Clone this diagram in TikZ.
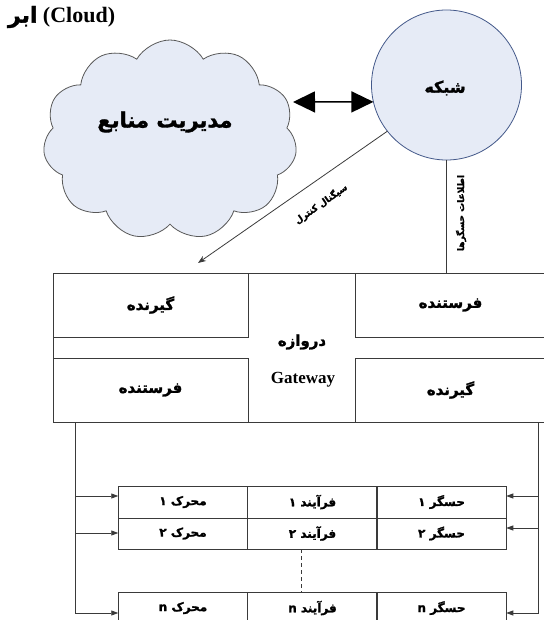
\documentclass[tikz,border=0pt]{standalone}
\usepackage{fontspec}
\setmainfont{Liberation Serif}
\newfontfamily\fa[Script=Arabic,BoldFeatures={FakeBold=1.6}]{DejaVu Sans}
\usetikzlibrary{shapes.symbols,arrows.meta}
\TeXXeTstate=1
\definecolor{fillblue}{HTML}{E6EBF6}
\definecolor{circedge}{HTML}{44598A}
\definecolor{ln}{HTML}{3A3A3A}
\newcommand{\fatext}[1]{{\fa\bfseries\beginR #1\endR}}
\newcommand{\fsz}[1]{\fontsize{#1}{#1}\selectfont}
\begin{document}
\begin{tikzpicture}[x=1pt,y=-1pt,
  every node/.style={inner sep=0pt, outer sep=0pt},
  lnst/.style={draw=ln, line width=0.8pt},
  gbox/.style={draw=ln, line width=0.9pt, minimum height=64pt, font=\fsz{15}},
  cell/.style={draw=ln, line width=0.9pt, minimum width=129.5pt, font=\fsz{12}},
  tip/.style={-{Triangle[length=7pt,width=5pt]}},
  bigtip/.style={{Triangle[length=22pt,width=21pt]}-{Triangle[length=22pt,width=21pt]}}
]
\useasboundingbox (0,0) rectangle (543,620);

% title
\node[anchor=west] (title) at (8,17) {\fsz{22}\fatext{ابر} \bfseries(Cloud)};

% cloud
\node[cloud, cloud puffs=11, cloud puff arc=120, aspect=1.26, draw=ln!85, line width=0.8pt,
      fill=fillblue, minimum width=254pt, minimum height=200pt] (cloud) at (170,140) {};
\node (cloudtxt) at (165,122) {\fsz{21}\fatext{مدیریت منابع}};

% network circle
\node[circle, draw=circedge, line width=0.8pt, fill=fillblue, minimum size=150pt] (net) at (446.5,85) {};
\node (nettxt) at (445,88) {\fsz{16}\fatext{شبکه}};

% double arrow
\coordinate (ca) at (293,102);
\draw[bigtip, line width=1.5pt] (ca) -- (net.193);

% gateway
\node[draw=ln, line width=0.9pt, minimum width=493pt, minimum height=149pt] (gw) at (299.5,347.5) {};
\node[gbox, minimum width=195pt] (lt) at (150.5,305) {\fatext{گیرنده}};
\node[gbox, minimum width=195pt] (lb) at (150.5,390) {\fatext{فرستنده}};
\node[gbox, minimum width=191pt] (rt) at (450.5,305) {\fatext{فرستنده}};
\node[gbox, minimum width=191pt] (rb) at (450.5,390) {\fatext{گیرنده}};
\node (gwfa) at (302,342) {\fsz{15}\fatext{دروازه}};
\node (gwen) at (303,380) {\fsz{17}\bfseries Gateway};

% control signal
\coordinate (ctl) at (198,263);
\draw[lnst, -{Stealth[length=8pt,width=6pt]}] (net.218) -- (ctl);
\node[rotate=35] (ctltxt) at (321,204) {\fsz{9}\fatext{سیگنال کنترل}};

% sensor info
\draw[lnst] (net.south) -- (rt.north -| net.south);
\node[rotate=90] (infotxt) at (461,213) {\fsz{9}\fatext{اطلاعات حسگرها}};

% table
\node[cell, minimum height=32pt] (m1) at (183,502) {\fatext{محرک ۱}};
\node[cell, minimum height=32pt] (p1) at (312.5,502) {\fatext{فرآیند ۱}};
\node[cell, minimum height=32pt] (s1) at (441.5,502) {\fatext{حسگر ۱}};
\node[cell, minimum height=31pt] (m2) at (183,533.5) {\fatext{محرک ۲}};
\node[cell, minimum height=31pt] (p2) at (312.5,533.5) {\fatext{فرآیند ۲}};
\node[cell, minimum height=31pt] (s2) at (441.5,533.5) {\fatext{حسگر ۲}};
\node[cell, minimum height=32pt] (mn) at (183,608) {\fatext{محرک n}};
\node[cell, minimum height=32pt] (pn) at (312.5,608) {\fatext{فرآیند n}};
\node[cell, minimum height=32pt] (sn) at (441.5,608) {\fatext{حسگر n}};

\coordinate (dx) at (301,0);
\draw[lnst, dashed, dash pattern=on 4pt off 3pt] (p2.south -| dx) -- (pn.north -| dx);

% feed lines
\coordinate (lx) at (75,0);
\coordinate (rx) at (538,0);
\coordinate (yl1) at (0,496);
\coordinate (yl2) at (0,533);
\coordinate (yr1) at (0,496);
\coordinate (yr2) at (0,528);
\coordinate (yn) at (0,613);
\draw[lnst, tip] (lb.south -| lx) |- (mn.west |- yn);
\draw[lnst, tip] (lx |- yl1) -- (m1.west |- yl1);
\draw[lnst, tip] (lx |- yl2) -- (m2.west |- yl2);
\draw[lnst, tip] (rb.south -| rx) |- (sn.east |- yn);
\draw[lnst, tip] (rx |- yr1) -- (s1.east |- yr1);
\draw[lnst, tip] (rx |- yr2) -- (s2.east |- yr2);
\end{tikzpicture}
\end{document}
